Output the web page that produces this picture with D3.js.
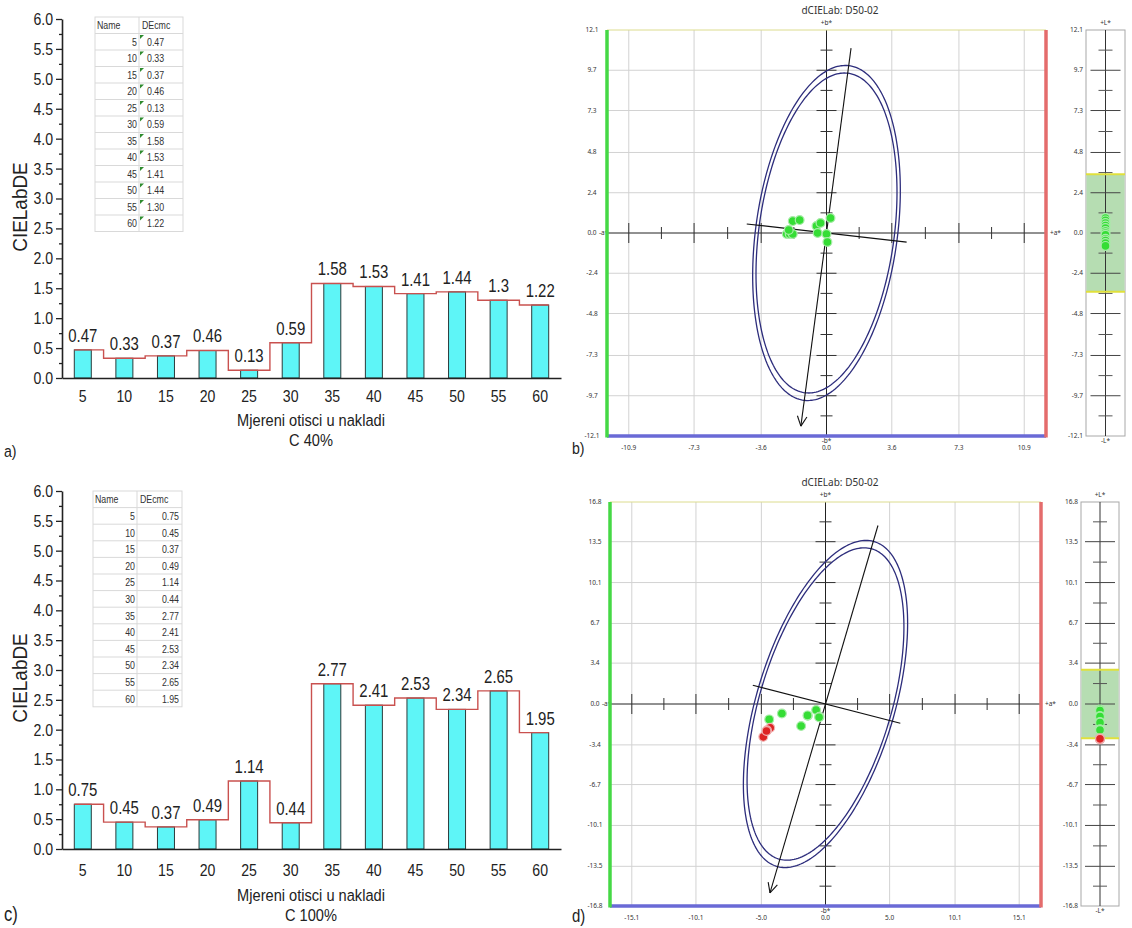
<!DOCTYPE html>
<html>
<head>
<meta charset="utf-8">
<script src="https://cdn.jsdelivr.net/npm/d3@7"></script>
<style>
  body { margin: 0; background: #fff; }
</style>
</head>
<body>
<svg id="fig" width="1132" height="928"></svg>
<script>
// bar charts (a, c)
const samples = [5, 10, 15, 20, 25, 30, 35, 40, 45, 50, 55, 60];
const deC40 = [0.47, 0.33, 0.37, 0.46, 0.13, 0.59, 1.58, 1.53, 1.41, 1.44, 1.30, 1.22];
const deC100 = [0.75, 0.45, 0.37, 0.49, 1.14, 0.44, 2.77, 2.41, 2.53, 2.34, 2.65, 1.95];
const barYTicks = [0, 0.5, 1, 1.5, 2, 2.5, 3, 3.5, 4, 4.5, 5, 5.5, 6];

// dCIELab plots (b, d)
const labXTicksB = [-10.9, -7.3, -3.6, 0.0, 3.6, 7.3, 10.9];
const labYTicksB = [-12.1, -9.7, -7.3, -4.8, -2.4, 0.0, 2.4, 4.8, 7.3, 9.7, 12.1];
const labXTicksD = [-15.1, -10.1, -5.0, 0.0, 5.0, 10.1, 15.1];
const labYTicksD = [-16.8, -13.5, -10.1, -6.7, -3.4, 0.0, 3.4, 6.7, 10.1, 13.5, 16.8];

const daB = [-1.86, -1.48, -2.19, -2.03, -1.86, -2.08, -0.55, -0.33, -0.49, 0.0, 0.22, 0.05];
const dbB = [0.71, 0.77, -0.06, -0.06, -0.06, 0.18, 0.42, 0.6, 0.0, -0.06, 0.89, -0.54];
const dLB = [0.89, 0.75, 0.6, 0.45, 0.3, 0.12, 0.0, -0.1, -0.34, -0.45, -0.6, -0.77];
const okB = ['g', 'g', 'g', 'g', 'g', 'g', 'g', 'g', 'g', 'g', 'g', 'g'];

const daD = [-4.39, -3.40, -1.90, -1.38, -0.73, -0.47, -1.40, -0.50, -4.31, -4.56, -4.85, -4.60];
const dbD = [-1.28, -0.79, -1.83, -0.98, -0.50, -1.06, -0.95, -1.10, -1.98, -2.19, -2.73, -2.25];
const dLD = [-0.45, -0.55, -1.0, -1.05, -1.5, -1.55, -2.1, -2.17, -2.85, -2.9, -2.95, -2.9];
const okD = ['g', 'g', 'g', 'g', 'g', 'g', 'g', 'g', 'r', 'r', 'r', 'r'];

// semi-major, semi-minor, tilt (deg from +b*)
const ellipseB = [10.05, 3.91, 7];
const ellipseD = [14.03, 5.4, 15.4];
// lengths of the drawn principal axes: [major top, major bottom], [minor left, minor right]
const majorLineB = [11.1, -11.6], minorLineB = [-4.43, 4.45];
const majorLineD = [15.4, -16.3], minorLineD = [-5.88, 6.05];
const bandB = 3.5, bandD = 2.85;

const svg = d3.select('#fig');
const SANS = '"Liberation Sans", Arial, sans-serif';
const SMALL = '"Noto Sans", "DejaVu Sans", sans-serif';
const K = 0.83; // horizontal squeeze to mimic the narrow face

function squeeze(sel, k) {
  sel.each(function () {
    const t = d3.select(this);
    const x = +t.attr('x') || 0;
    const tr = t.attr('transform') || '';
    t.attr('x', 0).attr('transform', `${tr} translate(${x},0) scale(${k},1)`);
  });
}

function drawBars(values, o) {
  const g = svg.append('g');
  const x = d3.scaleBand().domain(samples).range([o.x0, o.x1]);
  const y = d3.scaleLinear().domain([0, 6]).range([o.y0, o.yTop]);
  const bw = 17;
  const cx = d => x(d) + x.bandwidth() / 2;

  // table
  const rows = [['Name', 'DEcmc']].concat(samples.map((s, i) => [String(s), values[i].toFixed(2)]));
  const t = g.append('g');
  t.append('rect').attr('x', o.tx0).attr('y', o.ty0).attr('width', o.tx1 - o.tx0)
    .attr('height', o.rh * rows.length).attr('fill', '#fff').attr('stroke', '#d9d9d9');
  t.append('line').attr('x1', o.txm).attr('x2', o.txm).attr('y1', o.ty0).attr('y2', o.ty0 + o.rh * rows.length)
    .attr('stroke', '#d9d9d9');
  rows.forEach((r, i) => {
    const top = o.ty0 + i * o.rh;
    if (i > 0) t.append('line').attr('x1', o.tx0).attr('x2', o.tx1).attr('y1', top).attr('y2', top).attr('stroke', '#d9d9d9');
    const base = top + 12.5;
    if (i === 0) {
      t.append('text').attr('x', o.tx0 + 2).attr('y', base).text(r[0]);
      t.append('text').attr('x', o.txm + 3).attr('y', base).text(r[1]);
    } else {
      t.append('text').attr('x', o.txm - 2).attr('y', base).attr('text-anchor', 'end').text(r[0]);
      if (o.marker) {
        t.append('path').attr('d', `M${o.txm + 1},${top + 1.5}h4l-4,4z`).attr('fill', '#2e8b2e');
        t.append('text').attr('x', o.txm + 8).attr('y', base).text(r[1]);
      } else {
        t.append('text').attr('x', o.tx1 - 3).attr('y', base).attr('text-anchor', 'end').text(r[1]);
      }
    }
  });
  t.selectAll('text').style('font', `11px ${SANS}`).attr('fill', '#333').call(squeeze, 0.8);

  // bars
  g.selectAll('rect.bar').data(values).join('rect').attr('class', 'bar')
    .attr('x', (d, i) => cx(samples[i]) - bw / 2)
    .attr('y', d => y(d))
    .attr('width', bw)
    .attr('height', d => o.y0 - y(d))
    .attr('fill', '#5ef5f7')
    .attr('stroke', '#2b3b3b')
    .attr('stroke-width', 1);

  // step line
  const pts = [];
  values.forEach((v, i) => {
    const c = cx(samples[i]);
    const xl = i === 0 ? c - bw / 2 : x(samples[i]);
    const xr = i === values.length - 1 ? c + bw / 2 : x(samples[i]) + x.bandwidth();
    pts.push([xl, y(v)], [xr, y(v)]);
  });
  g.append('path').attr('d', d3.line()(pts)).attr('fill', 'none')
    .attr('stroke', '#c9514f').attr('stroke-width', 1.4);

  // value labels
  g.selectAll('text.val').data(values).join('text').attr('class', 'val')
    .attr('x', (d, i) => cx(samples[i]))
    .attr('y', d => y(d) - 8)
    .attr('text-anchor', 'middle')
    .style('font', `18px ${SANS}`)
    .attr('fill', '#222')
    .text(d => String(d))
    .call(squeeze, K);

  // y axis
  const ya = g.append('g').attr('transform', `translate(${o.x0},0)`)
    .call(d3.axisLeft(y).tickValues(barYTicks).tickSize(6).tickSizeOuter(0).tickPadding(3).tickFormat(d3.format('.1f')));
  g.append('g').attr('transform', `translate(${o.x0},0)`)
    .call(d3.axisLeft(y).tickValues(d3.pairs(barYTicks).map(([a, b]) => (a + b) / 2)).tickSize(3).tickSizeOuter(0).tickFormat(''))
    .select('.domain').remove();
  ya.selectAll('text').style('font', `17px ${SANS}`).attr('fill', '#222').call(squeeze, K);
  g.selectAll('.tick line').attr('stroke', '#222').attr('stroke-width', 1.3);
  ya.select('.domain').attr('stroke', '#222').attr('stroke-width', 1.6);

  // x axis
  const xa = g.append('g').attr('transform', `translate(0,${o.y0})`)
    .call(d3.axisBottom(x).tickSize(0).tickSizeOuter(0).tickPadding(o.xPad));
  xa.select('.domain').attr('stroke', '#222').attr('stroke-width', 1.6);
  xa.selectAll('text').style('font', `17px ${SANS}`).attr('fill', '#222').call(squeeze, K);

  // titles
  g.append('text').attr('transform', `translate(${o.ylabX},${o.ylabY}) rotate(-90)`)
    .attr('text-anchor', 'middle').style('font', `21px ${SANS}`).attr('fill', '#222').text('CIELabDE')
    .call(squeeze, 0.9);
  g.append('text').attr('x', o.titleX).attr('y', o.title1Y).attr('text-anchor', 'middle')
    .style('font', `17px ${SANS}`).attr('fill', '#222').text('Mjereni otisci u nakladi').call(squeeze, 0.86);
  g.append('text').attr('x', o.titleX).attr('y', o.title2Y).attr('text-anchor', 'middle')
    .style('font', `17px ${SANS}`).attr('fill', '#222').text(o.sub).call(squeeze, 0.86);
  g.append('text').attr('x', o.panelX).attr('y', o.panelY)
    .style('font', `${o.panelSize}px ${SANS}`).attr('fill', '#222').text(o.panel).call(squeeze, K);
}

function drawLab(o) {
  const g = svg.append('g');
  const x = d3.scaleLinear().domain([-o.max, o.max]).range([o.left, o.right]);
  const y = d3.scaleLinear().domain([-o.max, o.max]).range([o.bottom, o.top]);
  const inner = v => Math.abs(v) < o.max - 0.01 && v !== 0;
  const mids = tk => d3.pairs(tk).map(([a, b]) => (a + b) / 2);

  g.append('text').attr('x', o.titleX).attr('y', o.titleY).attr('text-anchor', 'middle')
    .style('font', `10px ${SMALL}`).attr('fill', '#333').text('dCIELab: D50-02');

  // grid
  g.selectAll(null).data(o.xTicks.filter(inner)).join('line')
    .attr('x1', d => x(d)).attr('x2', d => x(d)).attr('y1', o.top).attr('y2', o.bottom)
    .attr('stroke', '#d2d2d2');
  g.selectAll(null).data(o.yTicks.filter(inner)).join('line')
    .attr('y1', d => y(d)).attr('y2', d => y(d)).attr('x1', o.left).attr('x2', o.right)
    .attr('stroke', '#d2d2d2');

  // axes through origin
  g.append('line').attr('x1', o.left).attr('x2', o.right).attr('y1', y(0)).attr('y2', y(0)).attr('stroke', '#222');
  g.append('line').attr('x1', x(0)).attr('x2', x(0)).attr('y1', o.top).attr('y2', o.bottom).attr('stroke', '#222');
  const tickX = (data, len) => g.selectAll(null).data(data).join('line')
    .attr('x1', d => x(d)).attr('x2', d => x(d)).attr('y1', y(0) - len).attr('y2', y(0) + len).attr('stroke', '#333');
  const tickY = (data, len) => g.selectAll(null).data(data).join('line')
    .attr('y1', d => y(d)).attr('y2', d => y(d)).attr('x1', x(0) - len).attr('x2', x(0) + len).attr('stroke', '#333');
  tickX(o.xTicks.filter(inner), 10);
  tickX(mids(o.xTicks), 6);
  tickY(o.yTicks.filter(inner), 10);
  tickY(mids(o.yTicks), 6);

  const labels = g.append('g').style('font', `6.5px ${SMALL}`).attr('fill', '#333');
  labels.selectAll(null).data(o.yTicks).join('text')
    .attr('x', o.left - 15).attr('y', d => y(d) + 2).attr('text-anchor', 'middle')
    .text(d => d.toFixed(1));
  labels.selectAll(null).data(o.xTicks).join('text')
    .attr('x', d => x(d)).attr('y', o.bottom + 14).attr('text-anchor', 'middle')
    .text(d => d.toFixed(1));
  labels.append('text').attr('x', x(0)).attr('y', o.top - 5).attr('text-anchor', 'middle').text('+b*');
  labels.append('text').attr('x', x(0)).attr('y', o.bottom + 7).attr('text-anchor', 'middle').text('-b*');
  labels.append('text').attr('x', o.left - 8).attr('y', y(0) + 2).text('-a*');
  labels.append('text').attr('x', o.right + 4).attr('y', y(0) + 2).text('+a*');

  // ellipses
  const th = o.ell[2] * Math.PI / 180;
  const u = [Math.sin(th), Math.cos(th)], v = [Math.cos(th), -Math.sin(th)];
  const ring = s => d3.range(0, 2 * Math.PI, Math.PI / 120).map(t => {
    const p = s * o.ell[0] * Math.cos(t), q = s * o.ell[1] * Math.sin(t);
    return [x(p * u[0] + q * v[0]), y(p * u[1] + q * v[1])];
  });
  [1, 0.955].forEach(s => g.append('path').attr('d', d3.line()(ring(s)) + 'Z')
    .attr('fill', 'none').attr('stroke', '#2d2d7c').attr('stroke-width', 1.3));

  // principal axes
  const A = [x(o.major[0] * u[0]), y(o.major[0] * u[1])];
  const B = [x(o.major[1] * u[0]), y(o.major[1] * u[1])];
  g.append('line').attr('x1', A[0]).attr('y1', A[1]).attr('x2', B[0]).attr('y2', B[1]).attr('stroke', '#111').attr('stroke-width', 1.1);
  const ang = Math.atan2(B[1] - A[1], B[0] - A[0]);
  [-0.45, 0.45].forEach(da => g.append('line')
    .attr('x1', B[0]).attr('y1', B[1])
    .attr('x2', B[0] - 11 * Math.cos(ang + da)).attr('y2', B[1] - 11 * Math.sin(ang + da))
    .attr('stroke', '#111').attr('stroke-width', 1.1));
  g.append('line')
    .attr('x1', x(o.minor[0] * v[0])).attr('y1', y(o.minor[0] * v[1]))
    .attr('x2', x(o.minor[1] * v[0])).attr('y2', y(o.minor[1] * v[1]))
    .attr('stroke', '#111').attr('stroke-width', 1.1);

  // frame
  g.append('line').attr('x1', o.left).attr('x2', o.right).attr('y1', o.top).attr('y2', o.top).attr('stroke', '#dcdc8e');
  g.append('line').attr('x1', o.left).attr('x2', o.right).attr('y1', o.bottom).attr('y2', o.bottom).attr('stroke', '#6a6ad6').attr('stroke-width', 3.5);
  g.append('line').attr('x1', o.left).attr('x2', o.left).attr('y1', o.top).attr('y2', o.bottom + 1.5).attr('stroke', '#45d845').attr('stroke-width', 3.5);
  g.append('line').attr('x1', o.right).attr('x2', o.right).attr('y1', o.top).attr('y2', o.bottom + 1.5).attr('stroke', '#e46c6c').attr('stroke-width', 3.5);

  // points
  const fill = s => s === 'r' ? '#dd2323' : '#35dd35';
  const rim = s => s === 'r' ? '#f0b0b0' : '#a8eca8';
  const order = d3.range(o.a.length).sort((i, j) => d3.ascending(o.st[i], o.st[j]));
  g.selectAll(null).data(order).join('circle')
    .attr('cx', i => x(o.a[i])).attr('cy', i => y(o.b[i])).attr('r', 4.4)
    .attr('fill', i => fill(o.st[i])).attr('stroke', i => rim(o.st[i])).attr('stroke-width', 1.2);

  // L* bar
  const lc = (o.lx0 + o.lx1) / 2;
  g.append('rect').attr('x', o.lx0).attr('y', o.top).attr('width', o.lx1 - o.lx0).attr('height', o.bottom - o.top)
    .attr('fill', '#fff').attr('stroke', '#a8a8a8');
  g.append('rect').attr('x', o.lx0 + 0.5).attr('y', y(o.band)).attr('width', o.lx1 - o.lx0 - 1)
    .attr('height', y(-o.band) - y(o.band)).attr('fill', '#b6ddb2');
  g.append('line').attr('x1', lc).attr('x2', lc).attr('y1', o.top).attr('y2', o.bottom).attr('stroke', '#333');
  g.selectAll(null).data(o.yTicks.filter(d => Math.abs(d) < o.max - 0.01)).join('line')
    .attr('x1', lc - 15).attr('x2', lc + 15).attr('y1', d => y(d)).attr('y2', d => y(d)).attr('stroke', '#444');
  g.selectAll(null).data(mids(o.yTicks)).join('line')
    .attr('x1', lc - 7).attr('x2', lc + 7).attr('y1', d => y(d)).attr('y2', d => y(d)).attr('stroke', '#555');
  [o.band, -o.band].forEach(b => g.append('line').attr('x1', o.lx0).attr('x2', o.lx1)
    .attr('y1', y(b)).attr('y2', y(b)).attr('stroke', '#e0e03c').attr('stroke-width', 2));
  const lLabels = g.append('g').style('font', `6.5px ${SMALL}`).attr('fill', '#333');
  lLabels.selectAll(null).data(o.yTicks).join('text')
    .attr('x', o.lx0 - 3).attr('y', d => y(d) + 2).attr('text-anchor', 'end').text(d => d.toFixed(1));
  lLabels.append('text').attr('x', lc).attr('y', o.top - 5).attr('text-anchor', 'middle').text('+L*');
  lLabels.append('text').attr('x', lc).attr('y', o.bottom + 7).attr('text-anchor', 'middle').text('-L*');
  g.selectAll(null).data(order).join('circle')
    .attr('cx', lc).attr('cy', i => y(o.L[i])).attr('r', 4.4)
    .attr('fill', i => fill(o.st[i])).attr('stroke', i => rim(o.st[i])).attr('stroke-width', 1.2);

  g.append('text').attr('x', o.panelX).attr('y', o.panelY)
    .style('font', `${o.panelSize}px ${SANS}`).attr('fill', '#222').text(o.panel).call(squeeze, K);
}

drawBars(deC40, {
  x0: 62, x1: 561, y0: 378, yTop: 19, xPad: 12,
  tx0: 95, tx1: 183, txm: 139, ty0: 17, rh: 16.5, marker: true,
  ylabX: 27, ylabY: 207, titleX: 311, title1Y: 426, title2Y: 446, sub: 'C 40%',
  panel: 'a)', panelX: 4, panelY: 457, panelSize: 17
});
drawBars(deC100, {
  x0: 62, x1: 561, y0: 849, yTop: 491, xPad: 15,
  tx0: 93, tx1: 182, txm: 137, ty0: 491, rh: 16.6, marker: false,
  ylabX: 27, ylabY: 678, titleX: 311, title1Y: 901, title2Y: 921, sub: 'C 100%',
  panel: 'c)', panelX: 4, panelY: 921, panelSize: 20
});

drawLab({
  max: 12.1, left: 607, right: 1046, top: 30, bottom: 436,
  xTicks: labXTicksB, yTicks: labYTicksB, ell: ellipseB, major: majorLineB, minor: minorLineB,
  a: daB, b: dbB, L: dLB, st: okB, band: bandB, lx0: 1086, lx1: 1125,
  titleX: 840, titleY: 14, panel: 'b)', panelX: 572, panelY: 454, panelSize: 17
});
drawLab({
  max: 16.8, left: 610, right: 1041, top: 502, bottom: 906,
  xTicks: labXTicksD, yTicks: labYTicksD, ell: ellipseD, major: majorLineD, minor: minorLineD,
  a: daD, b: dbD, L: dLD, st: okD, band: bandD, lx0: 1081, lx1: 1119,
  titleX: 840, titleY: 486, panel: 'd)', panelX: 572, panelY: 922, panelSize: 18
});
</script>
</body>
</html>
